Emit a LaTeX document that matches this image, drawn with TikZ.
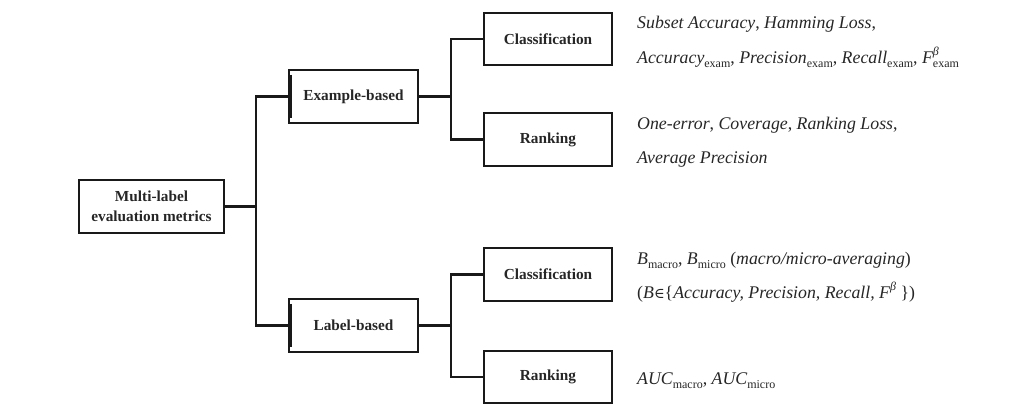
\documentclass[tikz,border=0pt]{standalone}
\usepackage{fontspec}
\setmainfont{Liberation Serif}
\newfontfamily\symfnt{DejaVu Serif}
\usetikzlibrary{calc}
\newcommand\sbx[1]{\raisebox{-3.4pt}{\fontsize{12}{12}\selectfont\upshape #1}}
\newcommand\supb{\raisebox{8pt}{\fontsize{12}{12}\selectfont\itshape β}}
\newcommand\Fbeta{F\rlap{\supb}\sbx{exam}}
\begin{document}
\begin{tikzpicture}[x=1pt,y=-1pt,
  box/.style={draw=black!90,line width=2.7pt,inner sep=0pt,outer sep=0pt,
    font=\fontsize{15.3}{20}\selectfont\bfseries,align=center,text=black!85},
  conn/.style={draw=black!90,line width=2.7pt,line cap=rect},
  stub/.style={draw=black!90,line width=3.6pt},
  accent/.style={draw=black!90,line width=2pt},
  metric/.style={anchor=base west,inner sep=0pt,font=\fontsize{17.8}{20}\selectfont\itshape,text=black!85}]
\useasboundingbox (0,0) rectangle (1031,411);
% boxes
\node[box,minimum width=145pt,minimum height=53pt] (root) at (151.5,206.5) {Multi-label\\evaluation metrics};
\node[box,minimum width=129pt,minimum height=53pt] (ex) at (353.5,96.5) {Example-based};
\node[box,minimum width=129pt,minimum height=53pt] (lab) at (353.5,325.5) {Label-based};
\node[box,minimum width=128pt,minimum height=52pt] (c1) at (548,39) {Classification};
\node[box,minimum width=128pt,minimum height=53pt] (r1) at (548,139.5) {Ranking};
\node[box,minimum width=128pt,minimum height=53pt] (c2) at (548,274.5) {Classification};
\node[box,minimum width=128pt,minimum height=52pt] (r2) at (548,377) {Ranking};
% accents on left edges
\draw[accent] ($(ex.north west)+(2.4,5)$) -- ($(ex.south west)+(2.4,-5)$);
\draw[accent] ($(lab.north west)+(2.4,5)$) -- ($(lab.south west)+(2.4,-5)$);
% junctions
\coordinate (j0) at (256,206.5);
\coordinate (j1) at (451,96.5);
\coordinate (j2) at (451,325.5);
% connectors
\draw[stub] (root.east) -- (j0);
\draw[conn] (ex.west) -| (j0) |- (lab.west);
\draw[stub] (ex.east) -- (j1);
\draw[conn] (c1.west) -| (j1) |- (r1.west);
\draw[stub] (lab.east) -- (j2);
\draw[conn] (c2.west) -| (j2) |- (r2.west);
% metric texts
\node[metric] (t1a) at (637,29) {Subset Accuracy{\upshape,} Hamming Loss{\upshape,}};
\node[metric] (t1b) at (637,64) {Accuracy\sbx{exam}{\upshape,} Precision\sbx{exam}{\upshape,} Recall\sbx{exam}{\upshape,} \Fbeta};
\node[metric] (t2a) at (637,130) {One-error{\upshape,} Coverage{\upshape,} Ranking Loss{\upshape,}};
\node[metric] (t2b) at (637,164) {Average Precision};
\node[metric] (t3a) at (637,265) {B\sbx{macro}{\upshape,} B\sbx{micro} {\upshape(}macro/micro-averaging{\upshape)}};
\node[metric] (t3b) at (637,299) {{\upshape(}B{\upshape\symfnt\fontsize{14.5}{16}\selectfont ∈}{\upshape\{}Accuracy, Precision, Recall, F\supb\ {\upshape\})}};
\node[metric] (t4) at (637,385) {AUC\sbx{macro}{\upshape,} AUC\sbx{micro}};
\end{tikzpicture}
\end{document}
